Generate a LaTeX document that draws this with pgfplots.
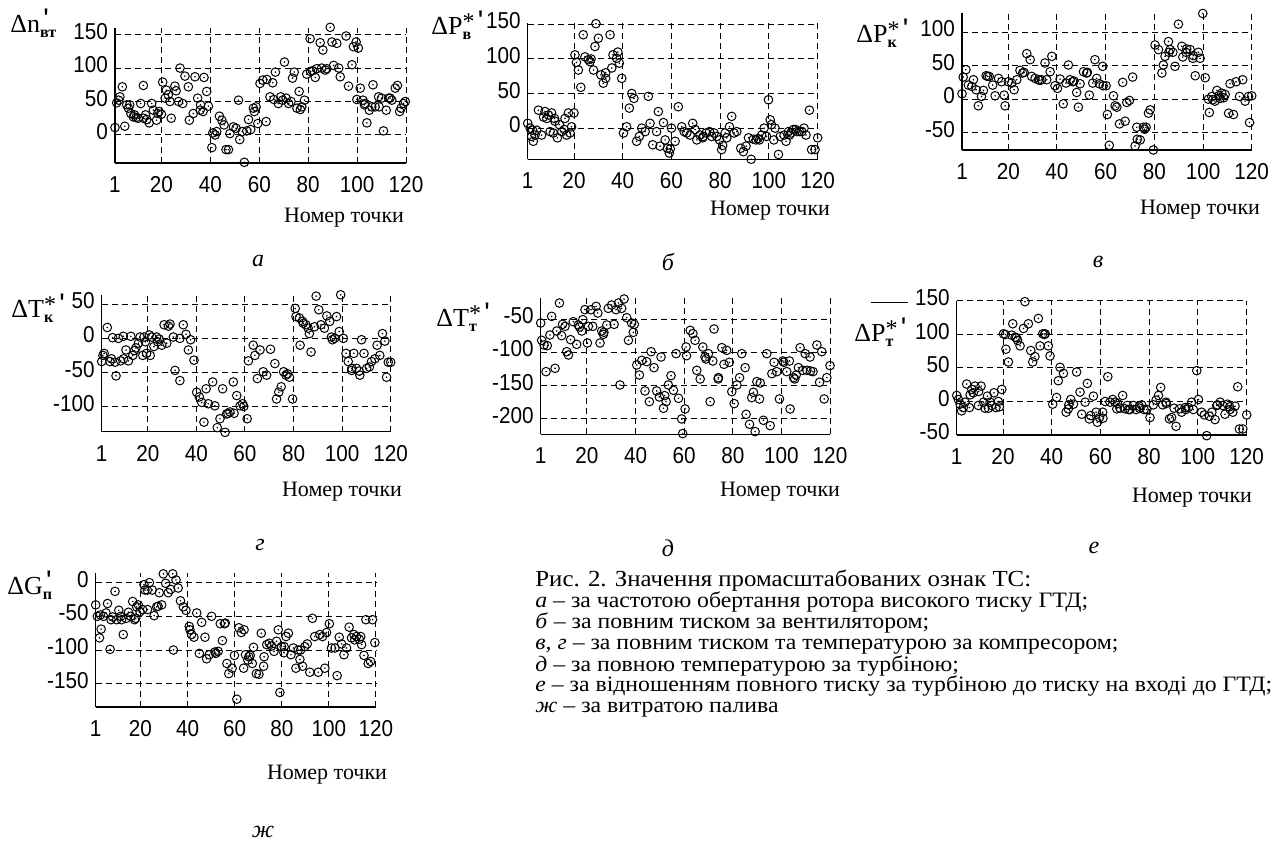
\documentclass[border=0pt]{standalone}
\usepackage{fontspec}
\setmainfont{Liberation Serif}
\setsansfont{Liberation Sans}
\newfontfamily\lblfont{Liberation Mono}
\newfontfamily\capfont[FakeStretch=1.08]{Liberation Serif}
\newfontfamily\tickfont[FakeStretch=0.9]{Liberation Sans}
\usepackage{pgfplots}
\pgfplotsset{compat=1.18}
\pgfdeclareplotmark{odot}{%
  \pgfpathcircle{\pgfpointorigin}{\pgfplotmarksize}\pgfusepathqstroke
  \pgfpathcircle{\pgfpointorigin}{0.45pt}\pgfusepathqfill}
\pgfplotsset{
  panel/.style={
    scale only axis, anchor=south west, clip=false,
    xmin=1, xmax=120,
    axis lines=left, axis line style={-, line width=0.75pt, black},
    xtick={1,20,40,60,80,100,120},
    grid=major,
    major grid style={dash pattern=on 3pt off 2pt, line width=0.5pt, black},
    major tick length=0pt,
    typeset ticklabels with strut,
    tick label style={font=\tickfont\fontsize{11.5}{11.5}\selectfont},
    /pgf/number format/assume math mode=true,
    xticklabel style={yshift=-3.2pt},
  },
  pts/.style={only marks, mark=odot, mark size=2.15pt, line width=0.5pt, black},
}
\newcommand{\ylab}[3]{{\fontsize{13}{13}\selectfont #1\rlap{#2}\raisebox{-2.5pt}{\fontsize{8}{8}\selectfont\bfseries #3}}}
\newcommand{\pr}{\raisebox{4.5pt}{\lblfont\bfseries\fontsize{10}{10}\selectfont '}}
\newcommand{\st}{\raisebox{2.5pt}{\fontsize{12}{12}\selectfont *}\pr}
\newcommand{\nt}{\fontsize{11}{11}\selectfont Номер точки}
\begin{document}
\begin{tikzpicture}
\path[use as bounding box] (0,0) rectangle (640pt,422pt);

% ---------- a ----------
\begin{axis}[panel, at={(57.5pt,340.5pt)}, width=145.5pt, height=67.5pt,
  ymin=-42, ymax=160, ytick={0,50,100,150}]
\addplot[pts] coordinates {(1,11)(1.7,48)(3,57)(4,72)(5,13)(5.8,45)(7,45)(7.5,32)(8.5,27)(9.6,26)(10.5,25)(11.5,47)(12.6,74)(12.6,25)(14,23)(15,18)(16,47)(16.7,37)(18,22)(18.5,32)(19,35)(20,31)(20.5,79)(21.5,55)(22,67)(23.5,50)(24,25)(25.5,73)(26,66)(27.6,100)(28.7,47)(29.6,88)(31,72)(31.4,22)(33,32)(33.7,87)(34.8,55)(35.8,37)(37,35)(37.4,86)(38.5,65)(39.2,43)(40.6,-19)(42,0)(42.6,5)(43.7,28)(44.7,22)(45.6,15)(46.4,-22)(47.4,-22)(48,2)(49.4,12)(50.5,10)(51.5,52)(52,-7)(53.9,-41)(54.9,6)(55.6,23)(56.5,8)(57.6,40)(58.7,42)(59.4,17)(60.3,77)(61.4,82)(62.8,20)(63.1,83)(64.4,57)(65.5,78)(66.6,94)(67.8,47)(68.8,57)(70.3,109)(71,55)(72,47)(73.6,85)(74.3,94)(75.4,40)(76.3,65)(77.4,42)(78.5,52)(79.4,91)(80.8,144)(81.8,96)(82.9,86)(83.5,99)(84.9,138)(86,127)(87,97)(87.6,99)(89,161)(89.7,139)(90.4,104)(91.7,137)(93.1,87)(95.5,148)(96.5,73)(97.9,105)(98.5,132)(99.6,139)(99.9,53)(101.3,70)(102.4,52)(103.3,47)(104,18)(105,37)(106.5,75)(107.4,42)(108.8,57)(110,55)(110.8,6)(111.9,37)(112.9,55)(114.2,52)(115.6,70)(116.5,74)(117.4,35)(119,47)(119.7,50)
(2.5,52)(6.5,40)(9,30)(13.5,30)(22.8,60)(27,50)(36,45)(41,3)(53,5)(58,35)(66,53)(69.5,52)(73,50)(76.8,38)(81,95)(85.5,100)(92.5,100)(100.5,130)(103,45)(106,42)(109,42)(113.5,55)(118,40)};
\end{axis}

% ---------- b ----------
\begin{axis}[panel, at={(263.85pt,342.35pt)}, width=145pt, height=68.15pt,
  ymin=-45, ymax=152, ytick={0,50,100,150}]
\addplot[pts] coordinates {(1,7)(2,0)(2.6,-12)(3.3,-19)(4,-10)(4.7,-3)(5.4,26)(6.7,-10)(8.1,24)(8.8,14)(9.5,19)(10.2,-5)(10.8,22)(11.5,-7)(12.2,10)(13.2,-14)(14,5)(15,-5)(16.3,14)(17,-10)(17.7,22)(18.4,-7)(19,2)(20,22)(20.4,106)(21.8,84)(22.8,59)(23.8,135)(24.5,103)(25.9,99)(26.6,96)(28,84)(29,151)(28.6,118)(30,130)(31,77)(32,65)(33,72)(34.8,135)(35.5,87)(36,106)(37.5,101)(38.6,94)(39.6,72)(40.3,-7)(41.6,2)(42.7,29)(43.7,50)(44.6,43)(45.7,-19)(46.8,-12)(47.8,0)(49.2,-5)(50.5,46)(51.2,7)(52.3,-24)(53.9,-5)(54.6,24)(55.3,-26)(56.7,8)(57.4,-17)(58.3,-29)(59.1,-36)(60,0)(61.5,-19)(62.8,31)(64.2,2)(65.2,-5)(66.3,-7)(67.6,-10)(68.7,7)(69.7,-2)(70.4,-17)(71.7,-10)(72.8,-14)(74.2,-7)(75.6,-5)(76.5,-12)(77.5,-7)(78.6,-12)(79.7,-17)(80.6,-31)(82,-7)(82.7,-14)(83.8,2)(84.7,17)(85.7,-7)(86.8,-5)(88.4,-29)(89.5,-34)(90.6,-26)(91.6,-14)(92.7,-45)(93.6,-16)(94.7,-17)(96.1,-17)(97,-10)(98,0)(99,-12)(99.8,41)(100.5,12)(102,-17)(102.5,0)(103.9,-38)(104.6,-12)(106.2,-10)(107,-19)(108,-5)(109,-7)(110,-2)(111,-2)(112.5,-5)(113.5,-5)(114.4,0)(115.2,-10)(116.6,26)(117.5,-31)(118.9,-31)(120,-14)
(3,-3)(7.5,16)(12,14)(16,-2)(21,95)(27,100)(33,80)(38,110)(59.5,-30)(73,-12)(81,-25)(95.5,-15)(101,5)(108.5,-10)(111.5,-5)};
\end{axis}

% ---------- c ----------
\begin{axis}[panel, at={(481pt,347pt)}, width=144.85pt, height=68.25pt,
  ymin=-76, ymax=128, ytick={-50,0,50,100}]
\addplot[pts] coordinates {(1,8)(1.5,33)(2.6,44)(3.6,21)(5,19)(5.7,29)(6.8,14)(7.7,-10)(9,4)(9.8,13)(10.9,35)(12.2,34)(13.6,21)(14.6,5)(16,31)(17.3,26)(18.3,6)(18.7,-10)(20,26)(21.4,24)(22.4,14)(23.5,29)(24.8,43)(25.9,39)(27.6,68)(29,59)(29.6,34)(31,31)(32.4,29)(33.7,29)(35.1,54)(35.8,29)(37.2,41)(37.9,64)(39.2,20)(40.2,16)(41.3,30)(42.6,-7)(43.7,24)(44.7,51)(45.4,29)(46.5,26)(48.1,10)(48.8,-12)(49.5,23)(50.9,41)(52.2,39)(53.3,6)(54.7,24)(55.6,59)(56.3,31)(57.4,23)(58.8,49)(60.2,20)(60.7,-23)(61.5,-69)(63.2,5)(63.9,-10)(64.6,-12)(65.7,-37)(67,25)(68,-33)(68.7,-5)(69.8,-2)(71.1,33)(72.1,-70)(72.8,-42)(74.2,-61)(75.5,-42)(76.6,-42)(77.6,-21)(78.3,-16)(79.6,-76)(80.3,81)(81.7,74)(83.1,39)(83.7,51)(84.4,64)(85.8,86)(86.5,74)(87.6,70)(88.5,49)(89.9,112)(91.3,79)(91.7,63)(93.3,75)(94.7,74)(95.8,61)(96.8,35)(98.1,70)(98.8,61)(99.9,128)(100.9,32)(102.2,0)(102.6,-20)(103.6,4)(104.9,-3)(105.7,13)(107,1)(107.7,9)(109.1,7)(110.5,-21)(111.1,23)(112.5,-23)(113.6,26)(115,4)(116.3,29)(117.3,-3)(118.7,4)(119.1,-35)(120,5)
(11.5,34)(26.5,40)(33,28)(47,27)(52.5,40)(59,20)(73,-60)(76,-45)(86,70)(93,70)(96,65)(104,-1)(106.5,5)(108.5,2)};
\end{axis}

% ---------- d ----------
\begin{axis}[panel, at={(50.85pt,206.15pt)}, width=144.5pt, height=68.45pt,
  ymin=-137, ymax=64, ytick={-100,-50,0,50}]
\addplot[pts] coordinates {(1,-34)(2,-22)(3.3,16)(4.4,-34)(5.5,1)(6.5,-35)(6.9,-55)(7.9,0)(8.8,-33)(9.9,3)(11,-17)(12,-33)(13,3)(13.8,-25)(15.1,-14)(16.1,-7)(16.8,2)(17.9,-25)(18.4,2)(19.5,-22)(20.6,5)(21.6,2)(22.5,-12)(23.6,2)(24.7,-1)(25.7,-10)(26.7,20)(27.8,-7)(29.1,21)(30.5,2)(31.2,-47)(33.2,-62)(33.2,0)(34.6,20)(35.7,6)(36.7,-17)(37.6,-2)(39,-32)(40.1,-79)(41.2,-86)(42.2,-94)(43.1,-123)(44,-74)(44.9,-96)(46.7,-64)(47.6,-99)(48.6,-131)(49.7,-118)(50.8,-74)(51.8,-138)(52.4,-111)(53.8,-108)(55.2,-64)(56.6,-84)(58,-99)(59,-96)(60.9,-118)(61.4,-33)(63.4,-10)(64.1,-25)(65.1,-59)(66.2,-17)(67.5,-49)(68.9,-54)(70.5,-16)(72.3,-37)(73,-89)(73.9,-79)(74.9,-71)(75.9,-49)(76.9,-54)(78.3,-57)(79.6,-89)(80.7,44)(81,32)(82.4,30)(82.7,-10)(83.7,25)(85.1,20)(86.5,7)(87.2,-20)(88.6,17)(89.3,62)(90.4,42)(91.3,20)(92.7,15)(93.7,33)(94.9,25)(95.6,2)(96.9,0)(97.7,32)(98.8,10)(99.4,64)(100.5,0)(101.6,-22)(102.5,-34)(103.9,-47)(104.8,-22)(105.9,-44)(107.3,-54)(108,-2)(109,-22)(110.1,-44)(111.2,-42)(112.1,-34)(113.5,-30)(114.4,-10)(115.5,-25)(116.6,7)(117.6,-4)(118.3,-57)(120,-35)
(1.5,-25)(5,-30)(10,-30)(14.5,-18)(19,-5)(21,-25)(24,-5)(28.5,18)(53,-110)(55.5,-110)(59.5,-100)(77.5,-52)(84,22)(86,15)(96,-2)(104,-44)(107,-48)(119,-35)};
\end{axis}

% ---------- e ----------
\begin{axis}[panel, at={(270.35pt,204.85pt)}, width=144.65pt, height=68.3pt,
  ymin=-223, ymax=-18, ytick={-200,-150,-100,-50}]
\addplot[pts] coordinates {(1,-56)(1.4,-82)(2.4,-89)(3.2,-129)(3.7,-90)(4.8,-74)(5.5,-46)(6.9,-124)(7.6,-68)(8.7,-26)(9.6,-75)(11,-61)(11.7,-99)(12.4,-104)(13.3,-81)(14.4,-54)(15.8,-88)(16.5,-59)(17.9,-68)(18.3,-51)(19.2,-36)(20.2,-86)(20.6,-61)(21.7,-36)(22.4,-61)(23.8,-31)(24.5,-41)(25.4,-86)(26.1,-68)(26.8,-73)(28.2,-59)(28.8,-34)(30.2,-29)(31.2,-58)(32,-36)(33,-26)(33.6,-149)(34.3,-34)(35.3,-20)(36.4,-48)(37.1,-82)(38.4,-56)(39.1,-70)(40.5,-119)(41.6,-134)(42.6,-112)(43.9,-158)(44.6,-114)(45.7,-174)(46.4,-99)(47.6,-123)(48.7,-158)(49.8,-167)(50.5,-107)(51.5,-184)(52.6,-174)(53.5,-149)(54.6,-135)(55.6,-157)(56.7,-102)(57.7,-169)(59,-200)(59.4,-222)(60.4,-185)(60.8,-92)(62.5,-67)(63.6,-72)(64.5,-82)(65.2,-127)(66.6,-140)(67.7,-92)(68.6,-107)(70,-102)(70.7,-174)(71.8,-113)(72.3,-65)(74.1,-138)(75.5,-93)(76.4,-118)(77.5,-97)(78.6,-115)(79.6,-159)(80.6,-177)(81.7,-149)(82.8,-138)(83.7,-102)(85.1,-123)(85.5,-193)(86.9,-208)(87.8,-168)(89.2,-219)(89.9,-144)(91,-170)(91.3,-146)(92.6,-202)(94,-102)(95.4,-210)(96.1,-132)(97,-115)(98.1,-129)(99.2,-170)(100.6,-113)(102.2,-129)(103.3,-113)(103.6,-185)(105,-138)(106.1,-134)(107,-123)(107.7,-93)(108.8,-127)(109.8,-102)(110.5,-127)(111.8,-107)(113,-129)(114.6,-89)(115.7,-145)(116.6,-99)(117.6,-170)(118.7,-138)(120,-120)
(10,-58)(17,-62)(27,-70)(39.5,-58)(52,-165)(61,-105)(69,-110)(74,-140)(88.5,-160)(101,-115)(105.5,-140)(112,-128)};
\end{axis}

% ---------- f ----------
\begin{axis}[panel, at={(478.35pt,204.5pt)}, width=145pt, height=67pt,
  ymin=-50, ymax=150, ytick={-50,0,50,100,150},
  x axis line style={line width=1.1pt}]
\addplot[pts] coordinates {(1,9)(1.7,3)(2.4,-4)(3,-14)(3.7,-9)(4.4,-1)(5.1,26)(6.2,-9)(7.2,18)(7.8,13)(8.5,23)(9.9,-6)(11,23)(12,-1)(12.6,-10)(13.6,8)(14.7,-1)(15.4,-6)(16.3,13)(17.1,-9)(18.1,0)(19.5,18)(20.2,101)(21.2,78)(22.2,59)(23.6,99)(24,116)(25,96)(26,91)(27,83)(28.4,109)(29,149)(30.4,116)(31.4,76)(32.2,59)(33.1,67)(34.5,124)(35.2,83)(36.3,101)(37.3,101)(38.6,83)(39.3,68)(40.4,-4)(42,6)(42.7,31)(43.4,51)(44.8,42)(45.9,-16)(46.8,-11)(47.8,3)(48.9,-4)(50.2,44)(51.6,14)(52.3,-19)(53.7,-1)(54.6,27)(55.4,-26)(56,-21)(57.1,8)(58.2,-16)(58.7,-31)(59.6,-24)(60.9,-16)(61.9,0)(63,37)(63.9,-1)(65,3)(66,-1)(66.7,-11)(68,-10)(69.1,9)(70.1,-11)(71,-6)(72.1,-12)(73.5,-6)(74.6,-12)(75.9,-7)(76.9,-5)(77.9,-12)(79,-12)(80.3,-24)(81.7,-5)(82.8,2)(83.8,9)(84.7,21)(85.5,-5)(86.9,-1)(88.3,-26)(89.2,-24)(90.2,-10)(91,-37)(92.4,-11)(93.3,-16)(94.7,-9)(96.1,-9)(97.4,-1)(98.1,-12)(99.5,46)(100.2,3)(101.5,-16)(102.6,-20)(103.6,-51)(104.7,-22)(105.7,-16)(107,-27)(107.7,-6)(109.1,-1)(110.2,-6)(111.1,-19)(112.1,-4)(113.2,-12)(114.3,-16)(115.2,-7)(116.3,22)(117,-41)(118.4,-41)(120,-20)
(6.5,10)(10,15)(14,-10)(18.5,-8)(21,100)(25.5,95)(37,100)(47,-5)(61,-25)(67,-3)(71.5,-12)(76,-10)(87,-3)(95,-12)(108,-5)(113,-8)};
\end{axis}

% ---------- g ----------
\begin{axis}[panel, at={(47.85pt,68.35pt)}, width=140.15pt, height=67.05pt,
  ymin=-185, ymax=14, ytick={-150,-100,-50,0},
  x axis line style={line width=1.1pt}]
\addplot[pts] coordinates {(1,-33)(1.7,-50)(2.6,-82)(3.3,-69)(4.3,-50)(5.4,-45)(6,-31)(7.1,-99)(8.2,-51)(9.2,-13)(9.9,-55)(10.8,-41)(11.6,-50)(12.7,-77)(13.9,-53)(14.9,-44)(15.9,-50)(16.7,-28)(18,-53)(18.4,-36)(19.1,-33)(19.8,-43)(20.9,-40)(21.5,-3)(21.9,-11)(22.9,-11)(23.8,0)(25,-11)(25.8,-49)(26.9,-36)(28,-15)(29,-33)(29.7,13)(30.7,-1)(31.8,-15)(32.8,-10)(33.7,13)(34,-100)(35.1,4)(36,-8)(37,-27)(38.2,-36)(39.3,-41)(40.7,-65)(41.7,-77)(42.7,-81)(43.9,-45)(45,-105)(46,-59)(47.4,-81)(48.1,-113)(49.2,-107)(50.2,-50)(51.6,-103)(53,-102)(53.9,-61)(54.8,-86)(55.7,-61)(56.7,-120)(57.5,-135)(58.9,-127)(59.9,-108)(60.9,-173)(61.8,-67)(62.8,-74)(63.8,-127)(64.6,-107)(65.6,-115)(66.6,-108)(67.5,-120)(68,-96)(69.2,-135)(70.3,-136)(71.3,-75)(72.3,-124)(73.6,-92)(74.7,-90)(75.7,-94)(76.7,-102)(77.8,-87)(78.5,-70)(79.2,-163)(79.9,-95)(80.9,-104)(81.8,-80)(82.8,-75)(83.9,-107)(84.9,-97)(86,-127)(87,-100)(87.7,-114)(88.8,-124)(89.8,-95)(90.8,-91)(91.9,-133)(93,-53)(94,-80)(95.5,-133)(96.2,-77)(97.3,-80)(98.3,-127)(99,-74)(100.2,-61)(101.1,-97)(102.6,-97)(103.5,-138)(104.4,-81)(105.4,-91)(106.4,-107)(107.5,-97)(108.6,-66)(109.6,-82)(110.6,-77)(111.7,-80)(112.9,-84)(113.9,-92)(114.9,-108)(115.7,-55)(116.7,-120)(117.7,-117)(118.5,-55)(119.5,-89)
(3,-48)(7.5,-55)(12,-55)(17.5,-55)(23,-40)(27.5,-35)(41,-70)(52,-105)(56,-60)(64,-70)(66,-110)(72.5,-110)(81,-95)(88,-100)(111,-85)(113.5,-80)};
\end{axis}

% ---------- y labels ----------
\node[anchor=base west, inner sep=0] at (5pt,405.5pt) {\ylab{Δn}{\pr}{вт}};
\node[anchor=base west, inner sep=0] at (215.5pt,404.5pt) {\ylab{ΔP}{\st}{в}};
\node[anchor=base west, inner sep=0] at (428pt,400.5pt) {\ylab{ΔP}{\st}{к}};
\node[anchor=base west, inner sep=0] at (5.5pt,263pt) {\ylab{ΔT}{\st}{к}};
\node[anchor=base west, inner sep=0] at (218pt,258.7pt) {\ylab{ΔT}{\st}{т}};
\node[anchor=base west, inner sep=0] at (427pt,251pt) {\ylab{Δ\rlap{\rule[19.5pt]{18.5pt}{0.6pt}}P}{\st}{т}};
\node[anchor=base west, inner sep=0] at (3.5pt,124.5pt) {\ylab{ΔG}{\pr}{п}};

% ---------- x labels ----------
\node at (172pt,313pt) {\nt};
\node at (385pt,316.5pt) {\nt};
\node at (600pt,317pt) {\nt};
\node at (171pt,176pt) {\nt};
\node at (390pt,176pt) {\nt};
\node at (596pt,173pt) {\nt};
\node at (163.5pt,34.5pt) {\nt};

% ---------- panel letters ----------
\begin{scope}[every node/.style={font=\fontsize{12}{12}\selectfont\itshape}]
\node at (129pt,291.5pt) {а};
\node at (334pt,291pt) {б};
\node at (549pt,291pt) {в};
\node at (130pt,149.5pt) {г};
\node at (334pt,148pt) {д};
\node at (547pt,148pt) {е};
\node at (131.5pt,6pt) {ж};
\end{scope}

% ---------- caption ----------
\begin{scope}[every node/.style={anchor=base west, inner sep=0, font=\capfont\fontsize{11}{11}\selectfont}]
\node[font=\capfont\fontsize{11.5}{11.5}\selectfont] at (267.5pt,128.5pt) {Рис. 2. Значення промасштабованих ознак ТС:};
\node at (267.5pt,118pt) {\textit{а} – за частотою обертання ротора високого тиску ГТД;};
\node at (267.5pt,107.5pt) {\textit{б} – за повним тиском за вентилятором;};
\node at (267.5pt,97pt) {\textit{в, г} – за повним тиском та температурою за компресором;};
\node at (267.5pt,86pt) {\textit{д} – за повною температурою за турбіною;};
\node at (267.5pt,76pt) {\textit{е} – за відношенням повного тиску за турбіною до тиску на вході до ГТД;};
\node at (267.5pt,65.5pt) {\textit{ж} – за витратою палива};
\end{scope}
\end{tikzpicture}
\end{document}
